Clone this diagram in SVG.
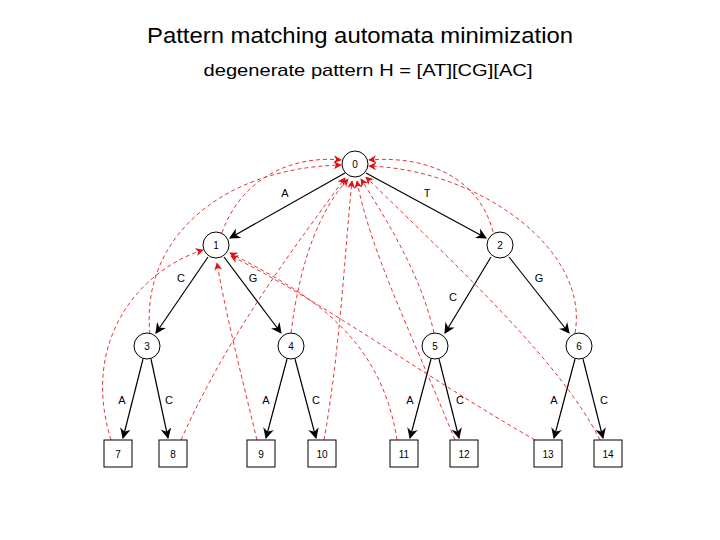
<svg xmlns="http://www.w3.org/2000/svg" width="720" height="540" viewBox="0 0 720 540">
<defs>
<marker id="ab" viewBox="0 0 10 10" refX="9" refY="5" markerWidth="9" markerHeight="9" orient="auto"><path d="M0,0L10,5L0,10L3,5z" fill="#000"/></marker>
<marker id="ar" viewBox="0 0 10 10" refX="9" refY="5" markerWidth="9" markerHeight="9" orient="auto"><path d="M0,0L10,5L0,10L3,5z" fill="#e01010"/></marker>
</defs>
<style>
text{font-family:"Liberation Sans",Arial,sans-serif;text-anchor:middle}
.n circle,.n rect{fill:#fff;stroke:#000;stroke-width:1}
.n text{font-size:10px}
.t line{stroke:#000;stroke-width:1.2;marker-end:url(#ab)}
.f path{fill:none;stroke:#e02020;stroke-width:0.9;stroke-dasharray:4 3;marker-end:url(#ar)}
.l{font-size:11px}
</style>
<rect width="720" height="540" fill="#fff"/>
<text x="360" y="43" font-size="22" textLength="426" lengthAdjust="spacingAndGlyphs">Pattern matching automata minimization</text>
<text x="368" y="76" font-size="17" textLength="329" lengthAdjust="spacingAndGlyphs">degenerate pattern H = [AT][CG][AC]</text>
<g class="t">
<line x1="345" y1="173" x2="230" y2="238"/>
<line x1="366" y1="173" x2="486" y2="238"/>
<line x1="208" y1="257" x2="156" y2="333"/>
<line x1="224" y1="257" x2="281" y2="333"/>
<line x1="491" y1="257" x2="445" y2="333"/>
<line x1="509" y1="257" x2="569" y2="333"/>
<line x1="143" y1="359" x2="123" y2="438"/>
<line x1="151" y1="359" x2="168" y2="438"/>
<line x1="287" y1="359" x2="266" y2="438"/>
<line x1="295" y1="359" x2="316" y2="438"/>
<line x1="431" y1="359" x2="410" y2="438"/>
<line x1="439" y1="359" x2="459" y2="438"/>
<line x1="575" y1="359" x2="554" y2="438"/>
<line x1="583" y1="359" x2="603" y2="438"/>
</g>
<g class="l">
<text x="285" y="197">A</text><text x="427" y="197">T</text>
<text x="181" y="282">C</text><text x="253" y="282">G</text>
<text x="453" y="301">C</text><text x="539" y="282">G</text>
<text x="122" y="404">A</text><text x="169" y="404">C</text>
<text x="266" y="404">A</text><text x="316" y="404">C</text>
<text x="410" y="404">A</text><text x="460" y="404">C</text>
<text x="554" y="404">A</text><text x="604" y="404">C</text>
</g>
<g class="f">
<path d="M222,233 C240,180 290,155 341,160"/>
<path d="M150,334 C140,240 220,168 341,165"/>
<path d="M111,440 C80,340 140,270 203,250"/>
<path d="M181,440 C230,330 300,240 345,178"/>
<path d="M257,440 C240,370 225,310 217,263"/>
<path d="M291,333 C300,260 320,210 348,179"/>
<path d="M324,440 C340,350 345,250 352,181"/>
<path d="M397,440 C380,330 300,290 230,253"/>
<path d="M455,440 C410,330 370,250 357,181"/>
<path d="M434,333 C420,270 380,210 361,179"/>
<path d="M535,440 C430,380 320,300 231,256"/>
<path d="M600,440 C560,360 450,260 366,177"/>
<path d="M493,232 C480,180 430,155 369,160"/>
<path d="M575,333 C590,250 480,170 369,166"/>
</g>
<g class="n">
<g id="n0"><circle cx="355" cy="164" r="13"/><text x="355" y="168">0</text></g>
<g id="n1"><circle cx="216" cy="245" r="13"/><text x="216" y="249">1</text></g>
<g id="n2"><circle cx="500" cy="245" r="13"/><text x="500" y="249">2</text></g>
<g id="n3"><circle cx="147" cy="346" r="13"/><text x="147" y="350">3</text></g>
<g id="n4"><circle cx="291" cy="346" r="13"/><text x="291" y="350">4</text></g>
<g id="n5"><circle cx="435" cy="346" r="13"/><text x="435" y="350">5</text></g>
<g id="n6"><circle cx="579" cy="346" r="13"/><text x="579" y="350">6</text></g>
<g id="n7"><rect x="104" y="440" width="28" height="27"/><text x="118" y="458">7</text></g>
<g id="n8"><rect x="159" y="440" width="28" height="27"/><text x="173" y="458">8</text></g>
<g id="n9"><rect x="247" y="440" width="28" height="27"/><text x="261" y="458">9</text></g>
<g id="n10"><rect x="308" y="440" width="28" height="27"/><text x="322" y="458">10</text></g>
<g id="n11"><rect x="390" y="440" width="28" height="27"/><text x="404" y="458">11</text></g>
<g id="n12"><rect x="450" y="440" width="28" height="27"/><text x="464" y="458">12</text></g>
<g id="n13"><rect x="534" y="440" width="28" height="27"/><text x="548" y="458">13</text></g>
<g id="n14"><rect x="594" y="440" width="28" height="27"/><text x="608" y="458">14</text></g>
</g>
</svg>
